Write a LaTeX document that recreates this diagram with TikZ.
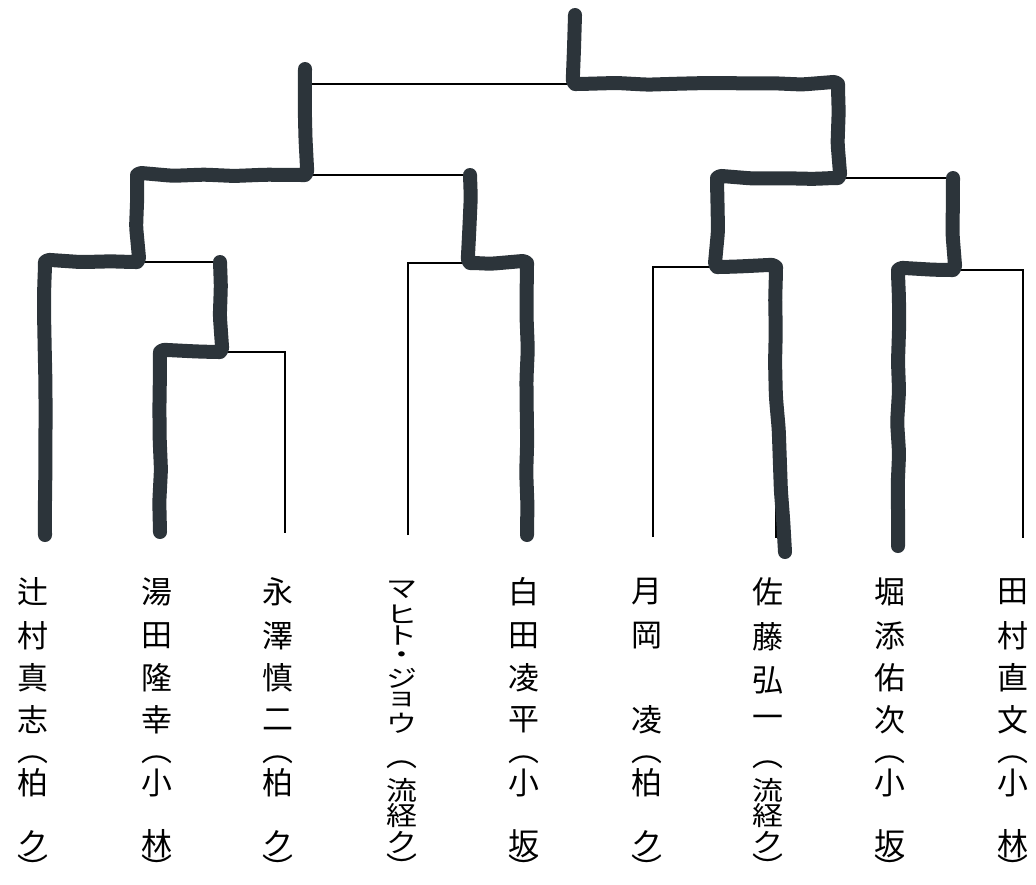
\documentclass[tikz,border=0pt]{standalone}
\usepackage{fontspec}
\usepackage{graphicx}
\usepackage{tikz}
\usetikzlibrary{calc,decorations.pathmorphing}
\newfontfamily\jpfont{Noto Sans CJK JP}
\definecolor{marker}{RGB}{44,52,58}
\newcommand{\squeeze}[2][0.78]{\scalebox{1}[#1]{#2}}

\tikzset{
  line/.style={black, line width=0.9pt},
  win/.style={marker, line width=0.35cm, line join=round, line cap=round,
    decorate, decoration={random steps, segment length=22pt, amplitude=0.8pt},
    rounded corners=3pt},
  jp/.style={inner sep=0pt, font=\jpfont\fontsize{22}{22}\selectfont}
}

\begin{document}
\begin{tikzpicture}[x=0.025cm, y=-0.025cm]
\pgfmathsetseed{11}
\useasboundingbox (0,0) rectangle (1036,884);

% ends of the printed bracket
\coordinate (t1) at (45,262);   \coordinate (b1) at (45,535);
\coordinate (t2) at (160,352);  \coordinate (b2) at (160,532);
\coordinate (t3) at (285,352);  \coordinate (b3) at (285,533);
\coordinate (t4) at (408,263);  \coordinate (b4) at (408,535);
\coordinate (t5) at (527,263);  \coordinate (b5) at (527,535);
\coordinate (t6) at (653,267);  \coordinate (b6) at (653,537);
\coordinate (t7) at (776,267);  \coordinate (b7) at (776,538);
\coordinate (t8) at (898,270);  \coordinate (b8) at (898,540);
\coordinate (t9) at (1023,270); \coordinate (b9) at (1023,538);
% match points
\coordinate (m23) at (220,262);
\coordinate (m1) at (137,175);
\coordinate (m45) at (470,175);
\coordinate (mL) at (305,84);
\coordinate (m67) at (717,178);
\coordinate (m89) at (953,178);
\coordinate (mR) at (838,84);
\coordinate (top) at (575,15);

% thin bracket
\draw[line] (b2) -- (t2) -- (t3) -- (b3);
\draw[line] (t2 -| m23) -- (m23);
\draw[line] (b1) -- (t1) -- (m23);
\draw[line] (t1 -| m1) -- (m1);
\draw[line] (b4) -- (t4) -- (t5) -- (b5);
\draw[line] (t4 -| m45) -- (m45);
\draw[line] (m1) -- (m45);
\draw[line] (m1 -| mL) -- (mL);
\draw[line] (b6) -- (t6) -- (t7) -- (b7);
\draw[line] (t6 -| m67) -- (m67);
\draw[line] (b8) -- (t8) -- (t9) -- (b9);
\draw[line] (t8 -| m89) -- (m89);
\draw[line] (m67) -- (m89);
\draw[line] (m67 -| mR) -- (mR);
\draw[line] (mL) -- (mR);
\draw[line] (mL -| top) -- (top);

% winners (marker)
\draw[win] (b1) -- (t1) -- (t1 -| m1) -- (m1) -- (m1 -| mL) -- ($(mL)+(0,-15)$);
\draw[win] (b2) -- (t2) -- (t2 -| m23) -- (m23);
\draw[win] (b5) -- (t5) -- (t5 -| m45) -- (m45);
\draw[win] ($(b7)+(9,14)$) -- ($(t7)+(0,130)$) -- (t7) -- (t7 -| m67) -- (m67) -- (m67 -| mR) -- (mR) -- (mR -| top) -- (top);
\draw[win] ($(b8)+(0,6)$) -- (t8) -- (t8 -| m89) -- (m89);

% names
\foreach \i/\x/\a/\b/\c/\d/\e/\f in {1/33/辻/村/真/志/柏/ク, 2/157/湯/田/隆/幸/小/林,
  3/278/永/澤/慎/二/柏/ク, 5/524/白/田/凌/平/小/坂, 6/647/月/岡//凌/柏/ク,
  8/890/堀/添/佑/次/小/坂, 9/1013/田/村/直/文/小/林}{
  \node[jp] (n\i-1) at (\x,592) {\a};
  \node[jp] (n\i-2) at (\x,636) {\b};
  \node[jp] (n\i-3) at (\x,678) {\c};
  \node[jp] (n\i-4) at (\x,720) {\d};
  \node[jp] (o\i) at (\x,760) {︵};
  \node[jp] (a\i-1) at (\x,783) {\e};
  \node[jp] (a\i-2) at (\x,844) {\f};
  \node[jp] (c\i) at (\x,868) {︶};
}
% マヒト・ジョウ
\foreach \ch/\y [count=\k] in {マ/590, ヒ/614, ト/636, ・/658, ジ/678, ョ/700, ウ/723}{
  \node[jp] (n4-\k) at (402,\y) {\squeeze{\ch}};
}
\node[jp] (o4) at (402,765) {︵};
\node[jp] (a4-1) at (402,790) {\squeeze[0.85]{流}};
\node[jp] (a4-2) at (402,816) {\squeeze[0.85]{経}};
\node[jp] (a4-3) at (402,842) {\squeeze[0.85]{ク}};
\node[jp] (c4) at (402,867) {︶};
% 佐藤弘一
\foreach \ch/\y [count=\k] in {佐/592, 藤/637, 弘/680, 一/722}{
  \node[jp] (n7-\k) at (768,\y) {\ch};
}
\node[jp] (o7) at (768,765) {︵};
\node[jp] (a7-1) at (768,790) {\squeeze[0.85]{流}};
\node[jp] (a7-2) at (768,816) {\squeeze[0.85]{経}};
\node[jp] (a7-3) at (768,842) {\squeeze[0.85]{ク}};
\node[jp] (c7) at (768,867) {︶};
\end{tikzpicture}
\end{document}
